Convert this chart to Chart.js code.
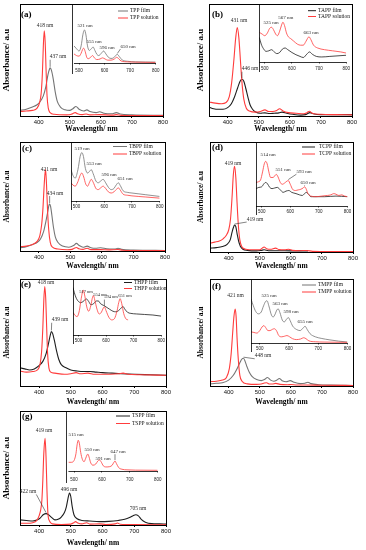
<!DOCTYPE html>
<html><head><meta charset="utf-8">
<script src="https://cdn.jsdelivr.net/npm/chart.js@4.4.1/dist/chart.umd.min.js"></script>
<style>
html,body{margin:0;padding:0;background:#fff}
body{width:366px;height:550px;position:relative;overflow:hidden}
canvas{position:absolute}
</style></head><body>
<script>
// ---------------- DATA (wavelength nm, relative absorbance) ----------------
const xTicks = [400, 500, 600, 700, 800];
const insetTicks = [500, 600, 700, 800];

// (a) TPP
const tppFilm = [[340,.05],[360,.06],[380,.08],[395,.1],[405,.13],[415,.18],[423,.26],[430,.37],[435,.42],[437,.43],[441,.41],[447,.33],[453,.22],[460,.13],[470,.08],[485,.055],[500,.05],[510,.065],[520,.085],[530,.06],[545,.045],[555,.055],[565,.04],[585,.03],[596,.038],[610,.025],[635,.02],[650,.03],[662,.018],[700,.01],[800,.006]];
const tppSolution = [[340,.04],[360,.045],[380,.05],[395,.07],[403,.12],[408,.2],[412,.38],[415,.62],[418,.76],[421,.66],[424,.4],[427,.18],[431,.07],[437,.03],[450,.015],[490,.01],[505,.015],[512,.025],[518,.03],[525,.02],[540,.012],[553,.018],[565,.01],[595,.012],[640,.008],[650,.012],[665,.006],[700,.004],[800,.003]];
const tppFilmInset = [[480,.3],[490,.25],[500,.21],[508,.3],[515,.5],[521,.58],[527,.49],[533,.3],[540,.22],[548,.25],[555,.28],[562,.22],[570,.15],[577,.13],[587,.17],[596,.21],[605,.16],[615,.1],[625,.08],[635,.09],[643,.13],[650,.15],[658,.11],[670,.05],[690,.03],[720,.02],[800,.015]];
const tppSolutionInset = [[480,.16],[490,.13],[500,.12],[508,.17],[513,.23],[518,.26],[524,.2],[530,.1],[536,.075],[545,.1],[553,.13],[560,.09],[570,.06],[582,.07],[592,.09],[602,.07],[612,.05],[625,.05],[638,.07],[648,.1],[656,.07],[665,.035],[690,.02],[720,.015],[800,.01]];
const tppMainPeaks = [['solution',418],['film',437]];
const tppInsetPeaks = [['film',521],['film',555],['film',596],['film',650]];

// (b) TAPP
const tappFilm = [[340,.08],[355,.065],[370,.06],[385,.06],[400,.075],[412,.11],[422,.17],[432,.25],[440,.31],[446,.33],[452,.31],[458,.25],[465,.17],[472,.1],[480,.06],[490,.035],[505,.025],[520,.028],[535,.022],[550,.025],[565,.028],[575,.035],[590,.025],[610,.015],[635,.008],[650,.012],[665,.03],[675,.02],[700,.012],[750,.012],[800,.012]];
const tappSolution = [[340,.125],[360,.115],[380,.11],[395,.12],[405,.17],[413,.3],[420,.5],[426,.7],[431,.79],[436,.7],[441,.5],[446,.3],[452,.15],[460,.07],[470,.045],[490,.035],[505,.04],[520,.055],[532,.04],[545,.04],[558,.05],[567,.065],[578,.045],[595,.03],[620,.025],[645,.02],[655,.03],[663,.042],[672,.025],[700,.015],[750,.012],[800,.01]];
const tappFilmInset = [[480,.44],[487,.32],[495,.24],[505,.19],[515,.2],[525,.22],[535,.18],[545,.15],[555,.17],[565,.23],[575,.25],[585,.22],[600,.17],[615,.13],[630,.1],[642,.08],[655,.14],[665,.18],[675,.14],[690,.1],[710,.09],[740,.1],[770,.11],[800,.12]];
const tappSolutionInset = [[480,.53],[490,.5],[500,.47],[510,.52],[518,.6],[525,.62],[532,.58],[540,.5],[547,.47],[555,.55],[562,.66],[567,.71],[573,.65],[580,.52],[587,.45],[595,.42],[605,.38],[620,.32],[632,.3],[642,.3],[652,.37],[663,.45],[670,.4],[680,.3],[695,.25],[720,.22],[750,.2],[780,.18],[800,.16]];
const tappMainPeaks = [['solution',431],['film',446]];
const tappInsetPeaks = [['solution',525],['solution',567],['solution',663]];

// (c) TBPP
const tbppFilm = [[340,.03],[360,.04],[380,.06],[395,.08],[405,.11],[415,.18],[422,.27],[428,.36],[432,.42],[434,.43],[437,.41],[441,.33],[446,.22],[452,.13],[460,.08],[475,.045],[495,.035],[510,.05],[519,.07],[528,.05],[540,.035],[553,.045],[565,.03],[580,.025],[596,.03],[615,.02],[640,.018],[651,.025],[662,.015],[700,.008],[800,.005]];
const tbppSolution = [[340,.04],[360,.045],[380,.06],[395,.09],[403,.14],[409,.25],[413,.4],[417,.62],[421,.75],[424,.62],[427,.4],[431,.2],[436,.08],[443,.035],[460,.018],[490,.012],[505,.015],[512,.025],[519,.032],[527,.02],[540,.015],[553,.025],[565,.013],[596,.013],[620,.01],[651,.014],[665,.007],[700,.005],[800,.003]];
const tbppFilmInset = [[480,.55],[487,.45],[495,.4],[505,.55],[513,.78],[519,.85],[525,.78],[532,.57],[540,.49],[547,.52],[553,.55],[560,.48],[570,.35],[578,.32],[587,.35],[596,.38],[605,.32],[615,.24],[625,.2],[635,.22],[643,.28],[651,.32],[658,.27],[668,.18],[685,.15],[700,.14],[750,.11],[800,.08]];
const tbppSolutionInset = [[480,.32],[487,.28],[495,.26],[505,.34],[513,.45],[519,.49],[526,.42],[533,.3],[540,.26],[547,.33],[553,.38],[560,.33],[570,.22],[578,.2],[587,.23],[596,.26],[605,.22],[615,.16],[625,.14],[635,.16],[643,.2],[651,.23],[658,.19],[668,.12],[685,.1],[700,.09],[750,.07],[800,.05]];
const tbppMainPeaks = [['solution',421],['film',434]];
const tbppInsetPeaks = [['film',519],['film',553],['film',596],['film',651]];

// (d) TCPP
const tcppFilm = [[340,.035],[360,.04],[380,.05],[395,.07],[405,.11],[411,.18],[415,.22],[419,.245],[423,.23],[427,.17],[432,.1],[438,.05],[446,.025],[460,.015],[490,.01],[505,.015],[514,.02],[528,.012],[560,.012],[600,.01],[630,.01],[655,.01]];
const tcppSolution = [[340,.08],[355,.09],[370,.1],[382,.12],[392,.15],[400,.2],[406,.3],[411,.5],[415,.7],[419,.78],[423,.68],[427,.45],[431,.25],[436,.11],[442,.05],[455,.025],[480,.02],[500,.02],[508,.035],[514,.045],[522,.03],[535,.025],[551,.035],[562,.022],[580,.02],[593,.025],[605,.015],[630,.012],[650,.014],[670,.006],[700,.005],[800,.003]];
const tcppFilmInset = [[480,.28],[490,.3],[500,.31],[508,.36],[514,.38],[520,.36],[528,.3],[536,.28],[545,.29],[555,.3],[565,.26],[575,.22],[585,.24],[595,.25],[605,.22],[620,.2],[632,.18],[642,.17],[650,.2],[656,.22],[662,.2],[672,.15],[690,.15],[720,.15],[760,.16],[800,.15]];
const tcppSolutionInset = [[480,.38],[488,.39],[496,.42],[503,.55],[509,.68],[514,.72],[519,.68],[525,.55],[531,.46],[540,.46],[546,.49],[551,.51],[557,.47],[565,.38],[572,.35],[580,.37],[588,.4],[593,.41],[600,.35],[608,.27],[618,.25],[628,.26],[637,.27],[645,.29],[650,.31],[655,.28],[662,.2],[672,.16],[690,.15],[710,.16],[730,.17],[742,.18],[752,.2],[760,.19],[770,.17],[780,.18],[790,.16],[800,.15]];
const tcppMainPeaks = [['solution',419],['film',419]];
const tcppInsetPeaks = [['solution',514],['solution',551],['solution',593],['solution',650]];

// (e) THPP
const thppFilm = [[340,.17],[355,.16],[370,.15],[385,.16],[400,.19],[412,.23],[422,.3],[430,.4],[435,.47],[439,.51],[443,.49],[448,.43],[455,.33],[462,.25],[470,.2],[485,.17],[500,.15],[520,.14],[540,.135],[560,.135],[580,.13],[600,.125],[630,.12],[660,.115],[700,.11],[750,.105],[800,.1]];
const thppSolution = [[340,.14],[360,.13],[380,.135],[395,.15],[403,.2],[408,.32],[412,.55],[415,.8],[418,.93],[421,.82],[424,.55],[427,.3],[431,.17],[437,.13],[450,.12],[480,.11],[500,.115],[517,.125],[530,.115],[554,.12],[575,.11],[600,.11],[650,.115],[665,.12],[680,.11],[720,.105],[800,.1]];
const thppFilmInset = [[480,.88],[485,.78],[492,.68],[500,.62],[508,.6],[517,.62],[528,.67],[537,.62],[545,.56],[555,.58],[565,.63],[572,.63],[580,.58],[590,.55],[600,.52],[612,.48],[625,.44],[635,.43],[645,.45],[655,.5],[661,.53],[668,.48],[678,.42],[690,.4],[710,.39],[740,.38],[770,.37],[800,.35]];
const thppSolutionInset = [[480,.42],[488,.36],[495,.34],[503,.45],[510,.68],[517,.83],[523,.72],[530,.52],[537,.44],[545,.55],[550,.68],[554,.73],[559,.65],[567,.48],[575,.39],[583,.42],[590,.5],[594,.52],[600,.45],[610,.33],[620,.28],[630,.3],[640,.45],[646,.6],[651,.67],[657,.58],[664,.4],[672,.3],[680,.28]];
const thppMainPeaks = [['solution',418],['film',439]];
const thppInsetPeaks = [['solution',517],['solution',554],['solution',594],['solution',651]];

// (f) TMPP
const tmppFilm = [[340,.02],[360,.025],[380,.03],[400,.055],[415,.1],[425,.15],[435,.21],[442,.25],[448,.26],[453,.23],[459,.18],[466,.13],[475,.09],[490,.06],[505,.05],[515,.06],[525,.08],[535,.055],[545,.045],[555,.055],[563,.07],[572,.05],[585,.04],[598,.05],[610,.035],[630,.022],[645,.025],[655,.035],[665,.022],[690,.012],[730,.008],[800,.005]];
const tmppSolution = [[340,.04],[360,.045],[380,.055],[393,.08],[402,.16],[408,.3],[413,.5],[417,.65],[421,.72],[424,.65],[427,.45],[431,.25],[436,.1],[443,.045],[460,.02],[490,.015],[505,.018],[515,.028],[522,.03],[532,.018],[540,.018],[552,.025],[565,.015],[590,.012],[600,.014],[620,.01],[650,.01],[700,.007],[800,.005]];
const tmppFilmInset = [[470,.71],[478,.6],[486,.51],[495,.47],[505,.5],[513,.6],[520,.67],[525,.68],[531,.6],[540,.45],[546,.42],[553,.47],[558,.53],[563,.55],[569,.49],[577,.37],[584,.34],[591,.38],[598,.41],[604,.36],[613,.27],[625,.22],[638,.2],[648,.24],[655,.27],[662,.22],[672,.15],[690,.1],[710,.075],[740,.05],[770,.03],[800,.015]];
const tmppSolutionInset = [[470,.18],[480,.17],[490,.16],[500,.2],[508,.26],[514,.28],[520,.25],[528,.2],[535,.2],[543,.22],[550,.23],[557,.2],[565,.12],[575,.1],[585,.11],[593,.12],[602,.1],[612,.07],[625,.055],[640,.065],[650,.085],[658,.07],[668,.035],[690,.02],[720,.015],[800,.01]];
const tmppMainPeaks = [['solution',421],['film',448]];
const tmppInsetPeaks = [['film',525],['film',563],['film',598],['film',655]];

// (g) TSPP
const tsppFilm = [[340,.045],[360,.04],[380,.035],[395,.045],[405,.065],[413,.09],[422,.1],[430,.09],[440,.065],[450,.045],[460,.05],[470,.07],[480,.11],[486,.16],[491,.23],[496,.28],[500,.25],[504,.17],[510,.09],[520,.055],[535,.04],[560,.035],[590,.03],[620,.032],[650,.04],[670,.05],[685,.065],[695,.08],[705,.09],[713,.08],[722,.05],[735,.025],[755,.012],[780,.01],[800,.008]];
const tsppSolution = [[340,.015],[360,.015],[380,.02],[393,.04],[400,.08],[405,.13],[409,.22],[412,.4],[415,.63],[419,.76],[422,.6],[425,.3],[428,.1],[433,.035],[442,.01],[470,.005],[500,.008],[510,.02],[515,.03],[522,.018],[535,.01],[550,.02],[560,.008],[591,.01],[610,.005],[640,.01],[647,.018],[656,.006],[700,.003],[800,.002]];
const tsppSolutionInset = [[480,.15],[490,.15],[500,.18],[507,.3],[511,.45],[515,.53],[519,.48],[524,.32],[530,.2],[536,.16],[542,.22],[547,.28],[550,.29],[554,.24],[560,.14],[568,.1],[578,.12],[585,.17],[591,.19],[597,.16],[605,.09],[615,.07],[628,.075],[637,.1],[643,.15],[647,.17],[652,.13],[660,.06],[672,.03],[690,.02],[720,.015],[800,.012]];
const tsppMainPeaks = [['solution',419],['film',422],['film',496],['film',705]];
const tsppInsetPeaks = [['solution',515],['solution',550],['solution',591],['solution',647]];

// ---------------- LAYOUT & STYLE ----------------
const SERIF = "'Liberation Serif','Times New Roman',serif";
const SANS = "'Liberation Sans',Arial,sans-serif";
const RED = '#ff3c3c', BLACK = '#1e1e1e', GREY = '#757575';

const LAYOUT = {
  a: { main:{x0:0,l:20,r:163,t:4,b:116,xt:129,yt:7,ys:9}, tag:[21,15],
       inset:{l:72,r:163,t:4,pr:160,pb:63,lo:7.5,min:480},
       legend:{x0:118,x1:128,tx:130,rows:[11,18]},
       mainNotes:[[45,26,0],[58,57,1]], insetNotes:[[85,26,0],[94,41.5,0],[107,48,0],[128,46.5,1]] },
  b: { main:{x0:183,l:209,r:352,t:4,b:116,xt:129,yt:201,ys:9}, tag:[212,15],
       inset:{l:259,r:352,t:4,pr:348,pb:62,lo:6,min:480},
       legend:{x0:308,x1:316,tx:318,rows:[10.7,16.5]},
       mainNotes:[[239,21,0],[250,69,1]], insetNotes:[[271,23,0],[285.7,18,0],[311,32.7,0]] },
  c: { main:{x0:0,l:20,r:165,t:142,b:251,xt:266,yt:7,ys:7.5}, tag:[22,149],
       inset:{l:71,r:165,t:142,pr:162,pb:201,lo:5.5,min:480},
       legend:{x0:113,x1:127,tx:129,rows:[146.5,154]},
       mainNotes:[[49,169.3,0],[55,193.3,1]], insetNotes:[[82,148.5,0],[94,164,0],[109,175,0],[125,178.3,0]] },
  d: { main:{x0:183,l:210,r:353,t:142,b:252,xt:266,yt:201,ys:7.5}, tag:[212,147.5],
       inset:{l:256,r:353,t:142,pr:350,pb:206,lo:5.7,min:480},
       legend:{x0:302,x1:315,tx:319,rows:[147,154]},
       mainNotes:[[233,164,0],[255,219.3,1]], insetNotes:[[268,155,0],[283,169.3,0],[304,171.7,1],[308,182.7,1]] },
  e: { main:{x0:0,l:20,r:166,t:279,b:386,xt:402,yt:7,ys:7.5}, tag:[21,284.5],
       inset:{l:73,r:166,t:279,pr:162,pb:335,lo:5,min:480},
       legend:{x0:124,x1:132,tx:134,rows:[282.5,288.5]},
       mainNotes:[[46,282.7,0],[60,320,1]], insetNotes:[[86,291.7,0],[100,295,0],[111,297.3,1],[125,296,1]] },
  f: { main:{x0:183,l:210,r:353,t:279,b:386,xt:402.7,yt:201,ys:7.5}, tag:[212,287],
       inset:{l:251,r:353,t:279,pr:348,pb:343,lo:5.7,min:470},
       legend:{x0:302,x1:316,tx:318,rows:[285,292]},
       mainNotes:[[235.5,296,0],[263,356,1]], insetNotes:[[269,296,0],[280,304,0],[291,311.7,0],[305,321.7,0]] },
  g: { main:{x0:0,l:20,r:166,t:411,b:525,xt:543,yt:7,ys:9}, tag:[22,417],
       inset:{l:66,r:166,t:411,pr:163,pb:471,lo:8.5,min:480},
       legend:{x0:116,x1:130,tx:132,rows:[416,423.5]},
       mainNotes:[[44,430.7,0],[28,491.7,1],[69,489.5,0],[138,509,0]], insetNotes:[[76,435,0],[92,450,0],[103,458.3,0],[118,451.7,1]] }
};

// ---------------- HELPERS ----------------
const pts = a => a.map(([x, y]) => ({x, y}));
function valueAt(arr, w) {
  let best = arr[0];
  for (const p of arr) if (Math.abs(p[0] - w) < Math.abs(best[0] - w)) best = p;
  return best[1];
}
function addCanvas(x, y, w, h) {
  const c = document.createElement('canvas');
  c.width = w; c.height = h;
  c.style.left = x + 'px'; c.style.top = y + 'px';
  c.style.width = w + 'px'; c.style.height = h + 'px';
  document.body.appendChild(c);
  return c;
}

const decor = {
  id: 'decor',
  beforeDraw(chart, args, o) {
    if (!o.bg) return;
    const c = chart.ctx; c.save(); c.fillStyle = '#fff';
    c.fillRect(0, 0, chart.width, chart.height); c.restore();
  },
  afterDraw(chart, args, o) {
    const {ctx, chartArea: a, scales: {x, y}} = chart;
    ctx.save();
    ctx.strokeStyle = '#000';
    if (o.frame) {
      ctx.lineWidth = 1;
      ctx.strokeRect(a.left + 0.5, a.top + 0.5, a.right - a.left, a.bottom - a.top);
    }
    if (o.insetFrame) {
      ctx.lineWidth = 0.8;
      ctx.beginPath();
      ctx.moveTo(0.5, 0); ctx.lineTo(0.5, chart.height);
      ctx.moveTo(a.left, a.bottom + 0.5); ctx.lineTo(a.right, a.bottom + 0.5);
      ctx.stroke();
    }
    (o.notes || []).forEach(n => {
      const px = x.getPixelForValue(n.w), py = y.getPixelForValue(n.v);
      const lx = n.lx - o.ox, ly = n.ly - o.oy;
      ctx.font = n.size + 'px ' + SERIF;
      ctx.fillStyle = '#2a2a2a'; ctx.textAlign = 'center'; ctx.textBaseline = 'middle';
      ctx.fillText(n.text, lx, ly);
      if (n.lead) {
        const tw = ctx.measureText(n.text).width;
        const ex = Math.min(Math.max(px, lx - tw / 2), lx + tw / 2);
        const ey = py > ly ? ly + n.size / 2 : ly - n.size / 2;
        ctx.beginPath(); ctx.moveTo(px, py - 1); ctx.lineTo(ex, ey);
        ctx.lineWidth = 0.6; ctx.strokeStyle = '#333'; ctx.stroke();
      }
    });
    if (o.legend) {
      const L = o.legend;
      L.items.forEach((it, i) => {
        const yy = L.rows[i] - o.oy;
        ctx.beginPath(); ctx.moveTo(L.x0 - o.ox, yy); ctx.lineTo(L.x1 - o.ox, yy);
        ctx.strokeStyle = it.color; ctx.lineWidth = 1; ctx.stroke();
        ctx.font = '5.5px ' + SERIF; ctx.fillStyle = '#111';
        ctx.textAlign = 'left'; ctx.textBaseline = 'middle';
        ctx.fillText(it.text, L.tx - o.ox, yy);
      });
    }
    if (o.tag) {
      ctx.font = 'bold 9px ' + SERIF; ctx.fillStyle = '#000';
      ctx.textAlign = 'left'; ctx.textBaseline = 'middle';
      ctx.fillText(o.tag.text, o.tag.x - o.ox, o.tag.y - o.oy);
    }
    ctx.restore();
  }
};

function lineSet(label, data, color, width, order) {
  return { label, data: pts(data), borderColor: color, borderWidth: width, pointRadius: 0,
           cubicInterpolationMode: 'monotone', fill: false, order };
}

function makeNotes(peaks, series, pos, size) {
  return peaks.map(([s, w], i) => ({
    w, v: valueAt(series[s], w), text: w + ' nm',
    lx: pos[i][0], ly: pos[i][1], lead: !!pos[i][2], size
  }));
}

function mainChart(L, sets, notes, tag) {
  const cx = L.x0, cy = L.t - 2, cw = 183;
  const ch = Math.round(L.xt + 5.75 - cy);
  const padLeft = L.yt - cx - (L.ys / 2 + 2);
  const canvas = addCanvas(cx, cy, cw, ch);
  new Chart(canvas, {
    type: 'line',
    data: { datasets: sets },
    options: {
      responsive: false, animation: false, devicePixelRatio: 1,
      layout: { padding: { left: padLeft, right: cx + cw - L.r, top: L.t - cy, bottom: 0 } },
      plugins: { legend: {display: false}, tooltip: {enabled: false},
        decor: { frame: true, notes, tag, ox: cx, oy: cy } },
      scales: {
        x: { type: 'linear', min: 340, max: 800,
          afterBuildTicks: s => { s.ticks = xTicks.map(v => ({value: v})); },
          afterFit: s => { s.height = ch - (L.b - cy); },
          border: {display: false},
          grid: {drawOnChartArea: false, tickLength: 2, color: '#000', lineWidth: 1},
          ticks: { autoSkip: false, maxRotation: 0, padding: 0.5, color: '#111',
                   callback: v => String(v), font: {family: SANS, size: 6} },
          title: { display: true, text: 'Wavelength/ nm', color: '#000', padding: {top: 0, bottom: 2},
                   font: {family: SERIF, size: 7.5, weight: 'bold', lineHeight: 1} } },
        y: { min: 0, max: 1,
          afterFit: s => { s.width = L.l - cx - padLeft; },
          ticks: {display: false}, grid: {display: false}, border: {display: false},
          title: { display: true, text: 'Absorbance/ a.u', color: '#000', padding: {top: 2, bottom: 0},
                   font: {family: SERIF, size: L.ys, weight: 'bold', lineHeight: 1} } }
      }
    },
    plugins: [decor]
  });
}

function insetChart(I, sets, notes, legend) {
  const cx = I.l, cy = I.t + 1, cw = I.r - I.l;
  const ch = Math.round(I.pb + I.lo + 3.5 - cy);
  const canvas = addCanvas(cx, cy, cw, ch);
  new Chart(canvas, {
    type: 'line',
    data: { datasets: sets },
    options: {
      responsive: false, animation: false, devicePixelRatio: 1,
      layout: { padding: { left: 0, right: cx + cw - I.pr, top: 1, bottom: 0 } },
      plugins: { legend: {display: false}, tooltip: {enabled: false},
        decor: { bg: true, insetFrame: true, notes, legend, ox: cx, oy: cy } },
      scales: {
        x: { type: 'linear', min: I.min, max: 800,
          afterBuildTicks: s => { s.ticks = insetTicks.map(v => ({value: v})); },
          afterFit: s => { s.height = ch - (I.pb - cy); },
          border: {display: false},
          grid: {drawOnChartArea: false, tickLength: 1.5, color: '#000', lineWidth: 0.7},
          ticks: { autoSkip: false, maxRotation: 0, padding: Math.max(I.lo - 1.5 - 2.4, 0), color: '#222',
                   callback: v => String(v), font: {family: SANS, size: 4.5} } },
        y: { display: false, min: 0, max: 1 }
      }
    },
    plugins: [decor]
  });
}

function panel(key, names, filmColor, main, inset, mainPeaks, insetPeaks, noteSize) {
  const P = LAYOUT[key];
  const mainSets = [lineSet(names[0], main.film, filmColor, 1.1, 1), lineSet(names[1], main.solution, RED, 1.1, 0)];
  mainChart(P.main, mainSets, makeNotes(mainPeaks, main, P.mainNotes, 5.5),
            {text: '(' + key + ')', x: P.tag[0], y: P.tag[1]});
  const insetSets = [];
  if (inset.film) insetSets.push(lineSet(names[0], inset.film, filmColor, 0.8, 1));
  if (inset.solution) insetSets.push(lineSet(names[1], inset.solution, RED, 0.8, 0));
  const legend = Object.assign({}, P.legend, {items: [{text: names[0], color: filmColor}, {text: names[1], color: RED}]});
  insetChart(P.inset, insetSets, makeNotes(insetPeaks, inset, P.insetNotes, noteSize), legend);
}

panel('a', ['TPP film', 'TPP solution'], GREY, {film: tppFilm, solution: tppSolution},
      {film: tppFilmInset, solution: tppSolutionInset}, tppMainPeaks, tppInsetPeaks, 5);
panel('b', ['TAPP film', 'TAPP solution'], BLACK, {film: tappFilm, solution: tappSolution},
      {film: tappFilmInset, solution: tappSolutionInset}, tappMainPeaks, tappInsetPeaks, 5);
panel('c', ['TBPP film', 'TBPP solution'], GREY, {film: tbppFilm, solution: tbppSolution},
      {film: tbppFilmInset, solution: tbppSolutionInset}, tbppMainPeaks, tbppInsetPeaks, 5);
panel('d', ['TCPP film', 'TCPP solution'], BLACK, {film: tcppFilm, solution: tcppSolution},
      {film: tcppFilmInset, solution: tcppSolutionInset}, tcppMainPeaks, tcppInsetPeaks, 5);
panel('e', ['THPP film', 'THPP solution'], BLACK, {film: thppFilm, solution: thppSolution},
      {film: thppFilmInset, solution: thppSolutionInset}, thppMainPeaks, thppInsetPeaks, 4.5);
panel('f', ['TMPP film', 'TMPP solution'], GREY, {film: tmppFilm, solution: tmppSolution},
      {film: tmppFilmInset, solution: tmppSolutionInset}, tmppMainPeaks, tmppInsetPeaks, 5);
panel('g', ['TSPP film', 'TSPP solution'], BLACK, {film: tsppFilm, solution: tsppSolution},
      {solution: tsppSolutionInset}, tsppMainPeaks, tsppInsetPeaks, 5);
</script>
</body></html>
